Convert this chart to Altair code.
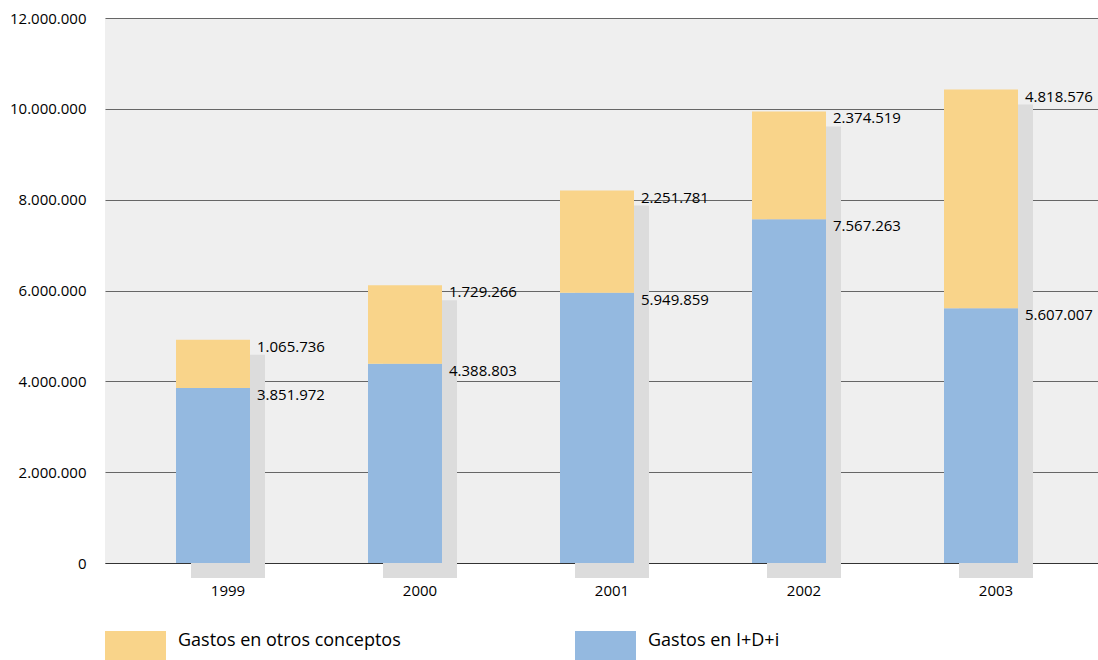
import altair as alt
import pandas as pd

years = ["1999", "2000", "2001", "2002", "2003"]
idi = [3851972, 4388803, 5949859, 7567263, 5607007]
otros = [1065736, 1729266, 2251781, 2374519, 4818576]
series = ["Gastos en otros conceptos", "Gastos en I+D+i"]
colors = ["#f9d48a", "#94b9e0"]
y_ticks = [0, 2000000, 4000000, 6000000, 8000000, 10000000, 12000000]

FONT = "Open Sans"

wide = pd.DataFrame({"year": years, "idi": idi, "otros": otros})
wide["total"] = wide["idi"] + wide["otros"]

long_rows = []
for y, a, b in zip(years, idi, otros):
    long_rows.append({"year": y, "serie": series[1], "value": a, "ord": 0})
    long_rows.append({"year": y, "serie": series[0], "value": b, "ord": 1})
long = pd.DataFrame(long_rows)

xscale = alt.Scale(domain=years, paddingInner=0, paddingOuter=0.0859375, align=0.3636)
yscale = alt.Scale(domain=[0, 12000000], nice=False)

x_enc = alt.X("year:N", scale=xscale, sort=years,
              axis=alt.Axis(title=None, labelAngle=0, ticks=False, tickSize=0,
                            labelOffset=15, labelPadding=20, labelFontSize=15,
                            labelFont=FONT, labelColor="#000", domainColor="#333",
                            domainWidth=1.2, grid=False))

shadow = alt.Chart(wide).mark_bar(
    size=74, color="#dcdcdc", xOffset=15, x2Offset=15, yOffset=15, y2Offset=15
).encode(
    x=x_enc,
    y=alt.Y("total:Q", scale=yscale,
            axis=alt.Axis(title=None, values=y_ticks, format=",d", ticks=False, tickSize=0,
                          labelPadding=19, labelFontSize=15, labelFont=FONT,
                          labelColor="#000", domain=False, gridColor="#666",
                          gridWidth=1)),
)

bars = alt.Chart(long).mark_bar(size=74).encode(
    x=alt.X("year:N", scale=xscale, sort=years),
    y=alt.Y("value:Q", stack="zero", scale=yscale),
    color=alt.Color("serie:N", scale=alt.Scale(domain=series, range=colors),
                    legend=alt.Legend(title=None, orient="none", legendX=0, legendY=597,
                                      direction="horizontal", columns=2,
                                      symbolType="M-1,-0.475H1V0.475H-1Z",
                                      symbolSize=3721, symbolStrokeWidth=0,
                                      labelFontSize=18, labelFont=FONT, labelColor="#000",
                                      labelBaseline="alphabetic",
                                      labelOffset=12, columnPadding=174, padding=0,
                                      labelLimit=400)),
    order=alt.Order("ord:Q"),
)

txt_common = dict(align="left", baseline="top", dx=44, dy=0, fontSize=15, font=FONT, color="#000")

labels_top = alt.Chart(wide).mark_text(**txt_common).encode(
    x=alt.X("year:N", scale=xscale, sort=years),
    y=alt.Y("total:Q", scale=yscale),
    text=alt.Text("otros:Q", format=",d"),
)
labels_low = alt.Chart(wide).mark_text(**txt_common).encode(
    x=alt.X("year:N", scale=xscale, sort=years),
    y=alt.Y("idi:Q", scale=yscale),
    text=alt.Text("idi:Q", format=",d"),
)

chart = alt.layer(shadow, bars, labels_top, labels_low).properties(
    width=993, height=545,
    autosize=alt.AutoSizeParams(type="none"),
    padding={"left": 105, "top": 18, "right": 0, "bottom": 97},
    background="#ffffff",
).configure_view(fill="#efefef", stroke=None)

chart.save("out.html", embed_options={
    "renderer": "svg", "actions": False,
    "formatLocale": {"decimal": ",", "thousands": ".", "grouping": [3], "currency": ["", " €"]},
})
